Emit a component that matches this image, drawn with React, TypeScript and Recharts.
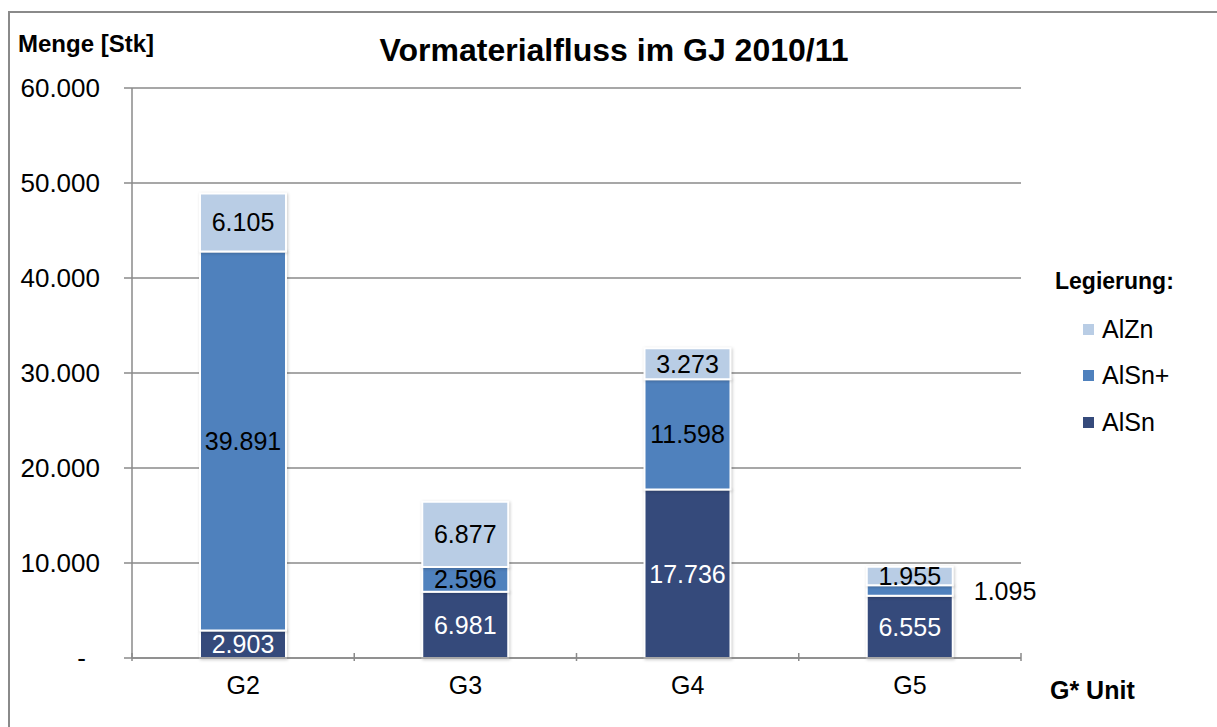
import { BarChart, Bar, XAxis, YAxis, CartesianGrid, LabelList } from 'recharts';

const units = ['G2', 'G3', 'G4', 'G5'];
const alSn = [2903, 6981, 17736, 6555];
const alSnPlus = [39891, 2596, 11598, 1095];
const alZn = [6105, 6877, 3273, 1955];
const yTicks = [0, 10000, 20000, 30000, 40000, 50000, 60000];

const data = units.map((unit, i) => ({
  unit,
  AlSn: alSn[i],
  'AlSn+': alSnPlus[i],
  AlZn: alZn[i],
}));

const FONT = '"Liberation Sans", Arial, sans-serif';
const W = 1217;
const H = 727;
const M = { top: 88, right: 196, left: 0, bottom: 29 };
const Y_W = 132;
const X_H = 40;
const PLOT_W = W - M.left - M.right - Y_W;
const AXIS = '#8a8a8a';

const series = [
  { key: 'AlSn', color: '#354a7b', text: '#ffffff' },
  { key: 'AlSn+', color: '#4f81bd', text: '#000000' },
  { key: 'AlZn', color: '#b9cde5', text: '#000000' },
];

const fmt = (v: number) => String(v).replace(/\B(?=(\d{3})+(?!\d))/g, '.');

function YTick(props: any) {
  const { x, y, payload } = props;
  const v = payload.value as number;
  return (
    <text x={v === 0 ? x - 14 : x} y={y} dy="0.36em" textAnchor="end" fill="#000" fontSize={26} fontFamily={FONT}>
      {v === 0 ? '-' : fmt(v)}
    </text>
  );
}

function XTick(props: any) {
  const { x, y, payload, index } = props;
  const band = PLOT_W / units.length;
  const last = index === units.length - 1;
  return (
    <g>
      <line x1={x - band / 2} x2={x - band / 2} y1={y - 15} y2={y - 7} stroke={AXIS} strokeWidth={1.5} />
      {last && <line x1={x + band / 2} x2={x + band / 2} y1={y - 15} y2={y - 7} stroke={AXIS} strokeWidth={1.5} />}
      <text x={x} y={y + 8} dy="0.71em" textAnchor="middle" fill="#000" fontSize={25} fontFamily={FONT}>
        {payload.value}
      </text>
    </g>
  );
}

function makeLabel(textColor: string) {
  return (props: any) => {
    const { x, y, width, height, value } = props;
    if (height < 15) {
      return (
        <text x={x + width + 21} y={y + height / 2} dy="0.36em" textAnchor="start" fill="#000" fontSize={25} fontFamily={FONT}>
          {fmt(value)}
        </text>
      );
    }
    return (
      <text x={x + width / 2} y={y + height / 2} dy="0.36em" textAnchor="middle" fill={textColor} fontSize={25} fontFamily={FONT}>
        {fmt(value)}
      </text>
    );
  };
}

function LegendBox() {
  return (
    <div style={{ position: 'absolute', left: 1083, top: 268, fontFamily: FONT }}>
      <div style={{ fontWeight: 'bold', fontSize: 23, marginBottom: 11, marginLeft: -28 }}>Legierung:</div>
      {[...series].reverse().map((s) => (
        <div key={s.key} style={{ display: 'flex', alignItems: 'center', height: 46.5, fontSize: 25 }}>
          <span style={{ display: 'inline-block', width: 11, height: 11, background: s.color, marginRight: 8 }} />
          {s.key}
        </div>
      ))}
    </div>
  );
}

export default function App() {
  return (
    <div style={{ position: 'absolute', left: 0, top: 0, width: W, height: H, background: '#fff', overflow: 'hidden' }}>
      <div style={{ position: 'absolute', left: 8, top: 11, width: W, height: H, borderLeft: `2px solid ${AXIS}`, borderTop: `2px solid ${AXIS}` }} />
      <div style={{ position: 'absolute', left: 18, top: 30, fontFamily: FONT, fontWeight: 'bold', fontSize: 24 }}>Menge [Stk]</div>
      <div style={{ position: 'absolute', left: 0, width: 1228, top: 32, textAlign: 'center', fontFamily: FONT, fontWeight: 'bold', fontSize: 32 }}>
        Vormaterialfluss im GJ 2010/11
      </div>
      <div style={{ position: 'absolute', left: 1050, top: 676, fontFamily: FONT, fontWeight: 'bold', fontSize: 25 }}>G* Unit</div>
      <LegendBox />
      <BarChart width={W} height={H} data={data} margin={M} barSize={86}>
        <CartesianGrid vertical={false} stroke={AXIS} strokeWidth={1.5} />
        <XAxis
          dataKey="unit"
          height={X_H}
          tick={<XTick />}
          tickLine={false}
          tickSize={8}
          axisLine={{ stroke: AXIS, strokeWidth: 1.5 }}
          interval={0}
        />
        <YAxis
          width={Y_W}
          domain={[0, 60000]}
          ticks={yTicks}
          tick={<YTick />}
          tickSize={8}
          tickMargin={24}
          tickLine={{ stroke: AXIS, strokeWidth: 1.5 }}
          axisLine={{ stroke: AXIS, strokeWidth: 1.5 }}
          interval={0}
        />
        {series.map((s) => (
          <Bar
            key={s.key}
            dataKey={s.key}
            stackId="a"
            fill={s.color}
            stroke="#ffffff"
            strokeWidth={2}
            isAnimationActive={false}
            style={{ filter: 'drop-shadow(1px 1px 1.5px rgba(0,0,0,0.2))' }}
          >
            <LabelList dataKey={s.key} content={makeLabel(s.text)} />
          </Bar>
        ))}
      </BarChart>
    </div>
  );
}
